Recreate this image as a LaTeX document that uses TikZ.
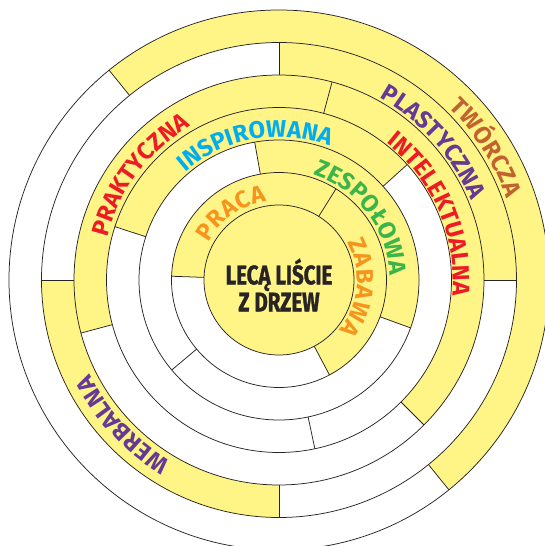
\documentclass[tikz,border=0pt]{standalone}
\usepackage{fontspec}
\setmainfont{Fira Sans}
\newfontfamily\titlefont{Fira Sans Bold}[FakeStretch=0.76, FakeBold=1.2]
\usetikzlibrary{decorations.text}
\definecolor{leaf}{RGB}{255, 245, 135}
\definecolor{rim}{RGB}{40, 36, 37}
\definecolor{orng}{RGB}{247, 148, 29}
\definecolor{grn}{RGB}{57, 181, 74}
\definecolor{cyn}{RGB}{0, 174, 239}
\definecolor{rd}{RGB}{237, 28, 36}
\definecolor{prpl}{RGB}{102, 57, 148}
\definecolor{brwn}{RGB}{193, 98, 47}
\newcommand{\labelfont}{\bfseries\fontsize{24}{24}\selectfont}

\tikzset{
  ringlabel/.style 2 args={decorate, decoration={text along path,
    text={#2}, text color=#1, text align=fit to path}}
}

\begin{document}
\begin{tikzpicture}[x=1pt, y=1pt, line width=0.75pt]
  \useasboundingbox (-279, -266) rectangle (266, 280);
  \clip (-279, -266) rectangle (266, 280);

  % Yellow parts of the rings
  \fill[leaf] (0, 0) circle [radius=75];
  \foreach \ra/\rb/\a/\b in {75/107.5/-62/178, 107.5/140/-20/100, 140/172.5/42/162,
      172.5/205/-45/195, 205/237.5/0/90, 205/237.5/180/270, 237.5/270/-51/129} {
    \fill[leaf] (\a:\ra) arc [start angle=\a, end angle=\b, radius=\ra]
      -- (\b:\rb) arc [start angle=\b, end angle=\a, radius=\rb] -- cycle;
  }

  % Circles
  \foreach \r in {75, 107.5, 140, 172.5, 205, 237.5, 270} {
    \draw[rim] (0, 0) circle [radius=\r];
  }

  % Dividers
  \foreach \ra/\rb/\a in {75/107.5/178, 75/107.5/58, 75/107.5/-62,
      107.5/140/100, 107.5/140/-20, 107.5/140/220,
      140/172.5/162, 140/172.5/42, 140/172.5/-78,
      172.5/205/75, 172.5/205/195, 172.5/205/-45,
      205/237.5/0, 205/237.5/90, 205/237.5/180, 205/237.5/270,
      237.5/270/129, 237.5/270/-51} {
    \draw[rim] (\a:\ra) -- (\a:\rb);
  }

  % Labels
  \begingroup
  \labelfont
  \path[ringlabel={orng}{PRACA}] (152:80) arc [start angle=152, end angle=99, radius=80];
  \path[ringlabel={orng}{ZABAWA}] (29:78) arc [start angle=29, end angle=-40, radius=78];
  \path[ringlabel={grn}{ZESPOŁOWA}] (72:111) arc [start angle=72, end angle=2.5, radius=111];
  \path[ringlabel={cyn}{INSPIROWANA}] (131:143) arc [start angle=131, end angle=69.5, radius=143];
  \path[ringlabel={rd}{PRAKTYCZNA}] (166:177) arc [start angle=166, end angle=120, radius=177];
  \path[ringlabel={rd}{INTELEKTUALNA}] (52:174) arc [start angle=52, end angle=-4, radius=174];
  \path[ringlabel={prpl}{PLASTYCZNA}] (61:208) arc [start angle=61, end angle=22.5, radius=208];
  \path[ringlabel={brwn}{TWÓRCZA}] (45.5:242) arc [start angle=45.5, end angle=19.7, radius=242];
  \path[ringlabel={prpl}{WERBALNA}] (239:211) arc [start angle=239, end angle=206.5, radius=211];
  \endgroup

  \node[align=center, text=rim, font=\titlefont\fontsize{27}{27}\selectfont]
    (title) at (0, -5) {LECĄ LIŚCIE\\Z DRZEW};
\end{tikzpicture}
\end{document}
